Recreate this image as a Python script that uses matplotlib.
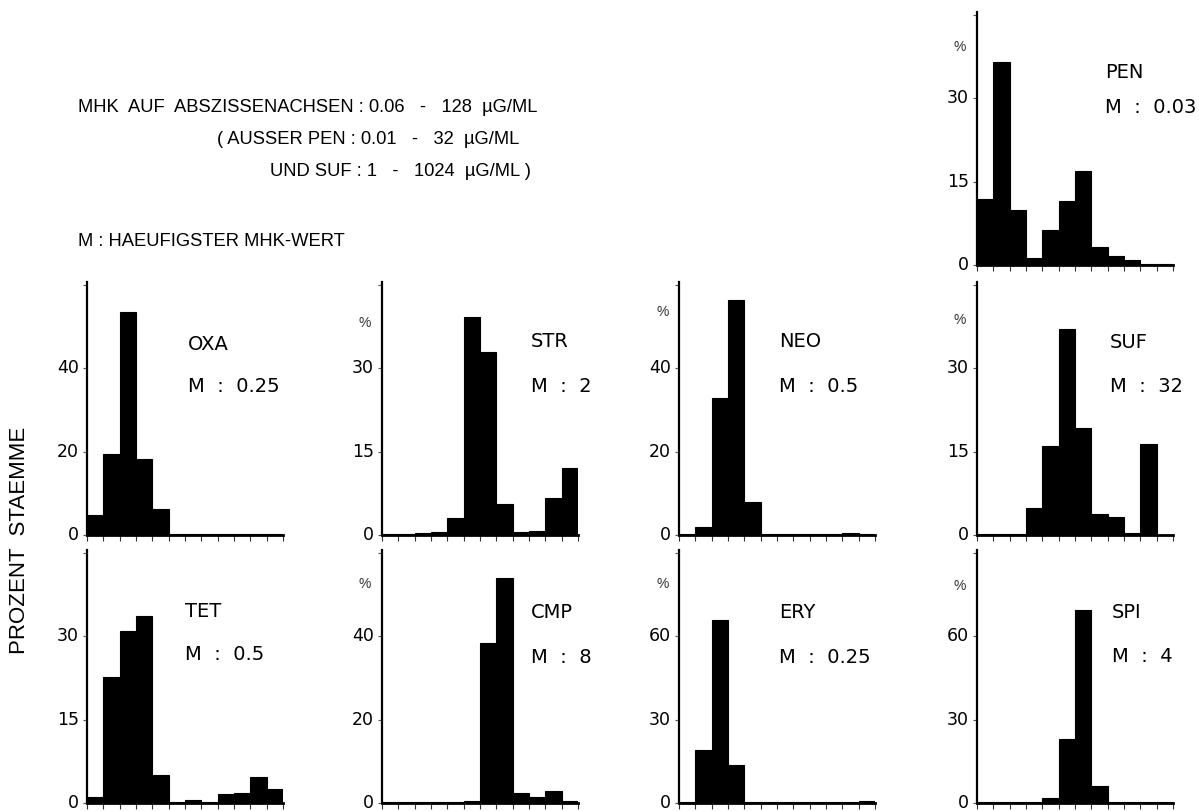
import numpy as np
import matplotlib
matplotlib.use("Agg")
import matplotlib.pyplot as plt
from matplotlib.transforms import ScaledTranslation

plt.rcParams['font.family'] = ['Liberation Sans', 'DejaVu Sans']

# MHK classes on the abscissa (12 doubling steps)
mhk_classes = ["0.06", "0.125", "0.25", "0.5", "1", "2", "4", "8", "16", "32", "64", "128"]

# percent of strains per MHK class
pen = [11.8, 36.5, 9.9, 1.3, 6.2, 11.5, 16.8, 3.2, 1.6, 0.9, 0.2, 0.1]
oxa = [4.8, 19.4, 53.5, 18.2, 6.3, 0.3, 0.3, 0.3, 0.3, 0.3, 0.3, 0.3]
strp = [0.2, 0.2, 0.3, 0.5, 3.1, 39.1, 32.8, 5.6, 0.5, 0.8, 6.7, 12.0]
neo = [0.2, 2.0, 32.9, 56.3, 7.9, 0.3, 0.2, 0.2, 0.2, 0.2, 0.4, 0.2]
suf = [0.2, 0.2, 0.2, 4.8, 15.9, 37.0, 19.3, 3.7, 3.3, 0.4, 16.4, 0.0]
tet = [1.0, 22.6, 30.9, 33.6, 5.1, 0.2, 0.6, 0.2, 1.6, 1.8, 4.7, 2.5]
cmp_ = [0.2, 0.2, 0.2, 0.2, 0.2, 0.4, 38.4, 53.9, 2.3, 1.4, 2.8, 0.4]
ery = [0.3, 19.0, 65.8, 13.5, 0.2, 0.2, 0.2, 0.2, 0.2, 0.2, 0.2, 0.7]
spi = [0.2, 0.2, 0.2, 0.3, 1.7, 23.1, 69.5, 6.0, 0.2, 0.2, 0.2, 0.5]

names = ["PEN", "OXA", "STR", "NEO", "SUF", "TET", "CMP", "ERY", "SPI"]
modes = ["0.03", "0.25", "2", "0.5", "32", "0.5", "8", "0.25", "4"]
series = [pen, oxa, strp, neo, suf, tet, cmp_, ery, spi]
steps = [15, 20, 15, 20, 15, 15, 20, 30, 30]

W, H = 1199, 812
fig = plt.figure(figsize=(W / 100, H / 100), dpi=100)

def px_axes(x0, base, width=196, height=253):
    return fig.add_axes([x0 / W, 1 - base / H, width / W, height / H])

# layout: (axis left px, baseline px, label x px, name y px, M y px, percent sign pos)
layout = {
    "PEN": (977, 266, 1105, 73, 108, (960, 47)),
    "OXA": (87, 536, 188, 345, 387, None),
    "STR": (382, 536, 531, 342, 387, (365, 323)),
    "NEO": (679, 536, 779, 342, 387, (663, 312)),
    "SUF": (977, 536, 1110, 343, 387, (960, 320)),
    "TET": (87, 804, 185, 612, 655, None),
    "CMP": (382, 804, 531, 613, 658, (365, 584)),
    "ERY": (679, 804, 779, 613, 658, (663, 584)),
    "SPI": (977, 804, 1112, 613, 657, (960, 586)),
}

LABEL_FONT = ['DejaVu Sans']
lift = ScaledTranslation(0, 3 / 100, fig.dpi_scale_trans)

x = np.arange(len(mhk_classes))
for name, mode, vals, step in zip(names, modes, series, steps):
    x0, base, lx, ny, my, pct = layout[name]
    ax = px_axes(x0, base)
    ax.bar(x, vals, width=1.0, align='edge', color='black', edgecolor='black', linewidth=0.8)
    ax.set_xlim(0, len(mhk_classes))
    ax.set_ylim(0, 3 * step * 1.01)
    ax.set_yticks([0, step, 2 * step, 3 * step])
    ax.set_yticklabels(["0", str(step), str(2 * step), ""])
    ax.set_xticks(np.arange(len(mhk_classes) + 1))
    ax.set_xticklabels([])
    for s in ["top", "right"]:
        ax.spines[s].set_visible(False)
    ax.spines["left"].set_linewidth(1.6)
    ax.spines["bottom"].set_linewidth(2.0)
    ax.tick_params(axis='y', length=3, width=0.8, labelsize=12.5, pad=3, color='#555555')
    for lab in ax.get_yticklabels():
        lab.set_family(LABEL_FONT)
        lab.set_transform(lab.get_transform() + lift)
    ax.tick_params(axis='x', length=4, width=0.8, direction='out', color='#333333')
    ax.patch.set_alpha(0)
    fig.text(lx / W, 1 - ny / H, name, fontsize=14, va='center', ha='left', family=LABEL_FONT)
    fig.text(lx / W, 1 - my / H, "M  :  " + mode, fontsize=14, va='center', ha='left', family=LABEL_FONT)
    if pct is not None:
        fig.text(pct[0] / W, 1 - pct[1] / H, "%", fontsize=10, va='center', ha='center', color='#333333')

# header text
fig.text(78 / W, 1 - 108 / H, "MHK  AUF  ABSZISSENACHSEN : 0.06   -   128  µG/ML", fontsize=13.2, va='center', ha='left')
fig.text(217 / W, 1 - 140 / H, "( AUSSER PEN : 0.01   -   32  µG/ML", fontsize=13.2, va='center', ha='left')
fig.text(270 / W, 1 - 172 / H, "UND SUF : 1   -   1024  µG/ML )", fontsize=13.2, va='center', ha='left')
fig.text(78 / W, 1 - 242 / H, "M : HAEUFIGSTER MHK-WERT", fontsize=13.2, va='center', ha='left')

fig.text(20 / W, 1 - 540 / H, "PROZENT  STAEMME", fontsize=16, rotation=90, va='center', ha='center')

fig.savefig("out.png", dpi=100)
